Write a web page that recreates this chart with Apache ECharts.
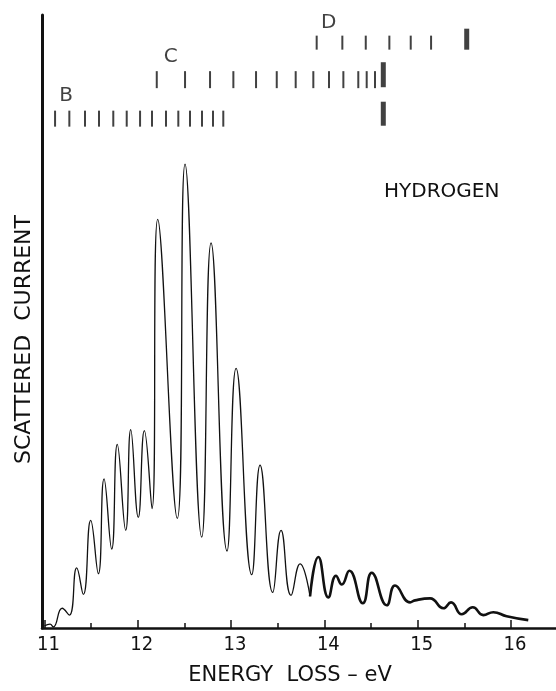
<!DOCTYPE html>
<html lang="en">
<head>
	<meta charset="utf-8"/>
	<title>Hydrogen energy loss</title>
	<script src="https://cdn.jsdelivr.net/npm/echarts@6/dist/echarts.min.js"></script>
	<style>
		html, body { margin: 0; padding: 0; background: #fff; }
		#chart { width: 556px; height: 691px; }
	</style>
</head>
<body>
<div id="chart"></div>
<script type="text/javascript">
	// energy loss (eV) and scattered current (arbitrary units)
	var energy = [11.0, 11.06, 11.095, 11.19, 11.267, 11.346, 11.417, 11.496, 11.578, 11.639,
		11.721, 11.781, 11.871, 11.925, 12.006, 12.071, 12.153, 12.214,
		12.424, 12.507, 12.686, 12.786, 12.957, 13.054,
		13.222, 13.311, 13.447, 13.536, 13.643, 13.740, 13.847, 13.936, 14.043, 14.125,
		14.187, 14.268, 14.412, 14.508, 14.669, 14.758, 14.919, 14.972, 15.133, 15.276,
		15.358, 15.473, 15.591, 15.704, 15.811, 15.954, 16.186];
	var current = [2, 4, 1, 20, 13, 61, 34, 109, 55, 151,
		80, 186, 99, 201, 112, 200, 121, 414,
		111, 470, 92, 390, 78, 263,
		54, 165, 36, 99, 33, 65, 32, 72, 31, 53,
		44, 58, 25, 56, 23, 43, 26, 28, 30, 20,
		26, 14, 21, 13, 16, 12, 8];
	var tailStart = 30; // the trace gets noisier (thicker) from here on

	// vibrational level markers of the B, C and D states (eV)
	var levelsB = [11.114, 11.267, 11.435, 11.585, 11.738, 11.882, 12.025, 12.153, 12.303,
		12.435, 12.560, 12.689, 12.807, 12.917];
	var levelsC = [12.204, 12.507, 12.775, 13.025, 13.268, 13.490, 13.693, 13.882, 14.050,
		14.204, 14.364, 14.454, 14.543];
	var levelsD = [13.918, 14.193, 14.444, 14.697, 14.926, 15.144];
	var limitB = 14.632, limitC = 14.632, limitD = 15.526;
	var rowB = 516, rowC = 555.5, rowD = 593;

	var majorTicks = [11, 12, 13, 14, 15, 16];
	var halfTicks = [11.5, 12.5, 13.5, 14.5, 15.5];

	var xMin = 10.974, xMax = 16.483;
	var ink = '#111';
	var narrow = '"Liberation Sans Narrow", "DejaVu Sans Condensed", sans-serif';
	var letters = '"DejaVu Sans", sans-serif';

	function pairs(xs, ys) {
		return xs.map(function (x, i) { return [x, ys[i]]; });
	}
	function row(xs, y) {
		return xs.map(function (x) { return [x, y]; });
	}
	function levelSeries(xs, y, h, name, dx, dy) {
		var d = row(xs, y);
		d[0] = {value: d[0], label: {show: true, formatter: name, position: 'inside', offset: [dx, dy],
			color: ink, fontSize: 20, fontFamily: letters}};
		return {type: 'scatter', symbol: 'rect', symbolSize: [2, h], itemStyle: {color: ink},
			data: d, z: 3, silent: true};
	}
	function limitSeries(x, y, h) {
		return {type: 'scatter', symbol: 'rect', symbolSize: [5, h], itemStyle: {color: ink},
			data: [[x, y]], z: 3, silent: true};
	}

	var chart = echarts.init(document.getElementById('chart'));
	var option = {
		animation: false,
		backgroundColor: '#fff',
		title: {
			text: 'HYDROGEN', left: 379, top: 177,
			textStyle: {color: ink, fontSize: 20, fontWeight: 'normal', fontFamily: letters}
		},
		grid: {left: 42, right: 0, top: 15, bottom: 55},
		xAxis: [
			{
				type: 'value', min: xMin, max: xMax,
				name: 'ENERGY  LOSS – eV', nameLocation: 'middle', nameGap: 37,
				nameTextStyle: {color: ink, fontSize: 21, fontFamily: letters, padding: [0, 18, 0, 0]},
				axisLine: {show: true, onZero: false, lineStyle: {color: ink, width: 2.5}},
				axisTick: {show: true, inside: true, length: 8, customValues: majorTicks,
					lineStyle: {color: ink, width: 1.5}},
				axisLabel: {customValues: majorTicks, margin: 7, color: ink, fontSize: 20,
					fontFamily: narrow, padding: [0, 0, 0, 8]},
				splitLine: {show: false}
			},
			{
				type: 'value', min: xMin, max: xMax, position: 'bottom',
				axisLine: {show: false},
				axisTick: {show: true, inside: true, length: 5, customValues: halfTicks,
					lineStyle: {color: ink, width: 1.5}},
				axisLabel: {show: false},
				splitLine: {show: false}
			}
		],
		yAxis: {
			type: 'value', min: 0, max: 621,
			name: 'SCATTERED  CURRENT', nameLocation: 'middle', nameGap: 7, nameRotate: 90,
			nameTextStyle: {color: ink, fontSize: 22, fontFamily: letters, padding: [0, 36, 0, 0]},
			axisLine: {show: true, onZero: false, lineStyle: {color: ink, width: 3}},
			axisTick: {show: false},
			axisLabel: {show: false},
			splitLine: {show: false}
		},
		series: [
			{
				type: 'line', smooth: 0.5, showSymbol: false, silent: true,
				data: pairs(energy.slice(0, tailStart + 1), current.slice(0, tailStart + 1)),
				lineStyle: {color: ink, width: 1.3}
			},
			{
				type: 'line', smooth: 0.5, showSymbol: false, silent: true,
				data: pairs(energy.slice(tailStart), current.slice(tailStart)),
				lineStyle: {color: ink, width: 2.6}
			},
			levelSeries(levelsB, rowB, 16, 'B', 11, -23),
			levelSeries(levelsC, rowC, 17, 'C', 14, -23),
			levelSeries(levelsD, rowD, 14, 'D', 12, -20),
			limitSeries(limitB, rowB + 5, 24),
			limitSeries(limitC, rowC + 5, 25),
			limitSeries(limitD, rowD + 3.5, 21)
		]
	};
	chart.setOption(option);
</script>
</body>
</html>
